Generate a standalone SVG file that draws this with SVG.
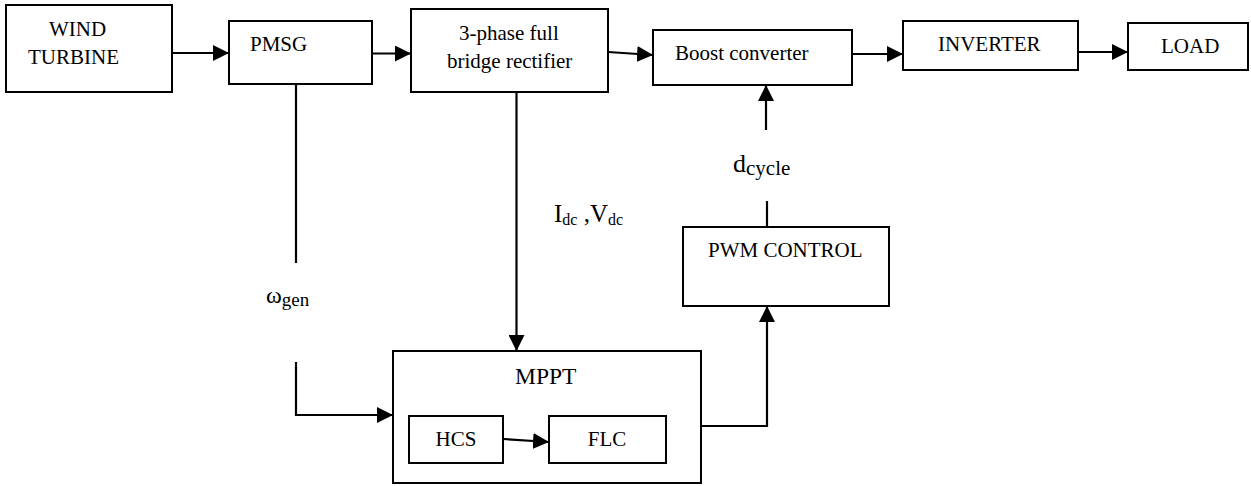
<svg xmlns="http://www.w3.org/2000/svg" width="1251" height="486" viewBox="0 0 1251 486">
<style>
.box{fill:#fff;stroke:#000;stroke-width:2}
.t{font-family:'Liberation Serif','Times New Roman','DejaVu Serif',serif;font-size:21px;fill:#000}
.c{fill:none;stroke:#000;stroke-width:2.2}
</style>
<defs>
<marker id="ah" markerUnits="userSpaceOnUse" markerWidth="17" markerHeight="16" refX="16" refY="8" orient="auto">
<path d="M0,0 L16,8 L0,16 z" fill="#000"/>
</marker>
</defs>
<rect width="1251" height="486" fill="#fff"/>
<g id="wind-turbine">
<rect class="box" x="6" y="5" width="166" height="87"/>
<text class="t" x="49" y="36">WIND</text>
<text class="t" x="28" y="64">TURBINE</text>
</g>
<g id="pmsg">
<rect class="box" x="229" y="21" width="143" height="63"/>
<text class="t" x="250" y="51">PMSG</text>
</g>
<g id="rectifier">
<rect class="box" x="411" y="9" width="197" height="83"/>
<text class="t" x="459" y="40">3-phase full</text>
<text class="t" x="447" y="68">bridge rectifier</text>
</g>
<g id="boost">
<rect class="box" x="653" y="30" width="199" height="55"/>
<text class="t" x="675" y="60">Boost converter</text>
</g>
<g id="inverter">
<rect class="box" x="903" y="21" width="175" height="49"/>
<text class="t" x="938" y="51">INVERTER</text>
</g>
<g id="load">
<rect class="box" x="1128" y="23" width="120" height="47"/>
<text class="t" x="1161" y="53">LOAD</text>
</g>
<g id="pwm">
<rect class="box" x="683" y="227" width="206" height="79"/>
<text class="t" x="708" y="257">PWM CONTROL</text>
</g>
<g id="mppt">
<rect class="box" x="393" y="351" width="308" height="132"/>
<text class="t" x="515" y="384" style="font-size:23.5px">MPPT</text>
</g>
<g id="hcs">
<rect class="box" x="409" y="416" width="94" height="47"/>
<text class="t" x="456" y="446" text-anchor="middle">HCS</text>
</g>
<g id="flc">
<rect class="box" x="549" y="416" width="117" height="47"/>
<text class="t" x="607" y="446" text-anchor="middle">FLC</text>
</g>
<g id="connectors">
<path class="c" d="M172,53 L229,53" marker-end="url(#ah)"/>
<path class="c" d="M372,53.5 L411,53.5" marker-end="url(#ah)"/>
<path class="c" d="M608,52 L653,55" marker-end="url(#ah)"/>
<path class="c" d="M852,54 L903,54" marker-end="url(#ah)"/>
<path class="c" d="M1078,52 L1128,52" marker-end="url(#ah)"/>
<path class="c" d="M296,84 L296,263"/>
<path class="c" d="M296,362 L296,415 L393,415" marker-end="url(#ah)"/>
<path class="c" d="M516.5,92 L516.5,351" marker-end="url(#ah)"/>
<path class="c" d="M701,426 L767,426 L767,306" marker-end="url(#ah)"/>
<path class="c" d="M767,227 L767,201"/>
<path class="c" d="M766,130 L766,85" marker-end="url(#ah)"/>
<path class="c" d="M503,439 L549,442" marker-end="url(#ah)"/>
</g>
<g id="labels">
<text class="t" x="266" y="303" style="font-size:24px">ω<tspan dy="3" style="font-size:19px">gen</tspan></text>
<text class="t" x="554" y="222" style="font-size:25px">I<tspan dy="3" style="font-size:16px">dc</tspan><tspan dy="-3"> ,V</tspan><tspan dy="3" style="font-size:16px">dc</tspan></text>
<text class="t" x="733" y="172" style="font-size:26px">d<tspan dy="3" style="font-size:21px">cycle</tspan></text>
</g>
</svg>
